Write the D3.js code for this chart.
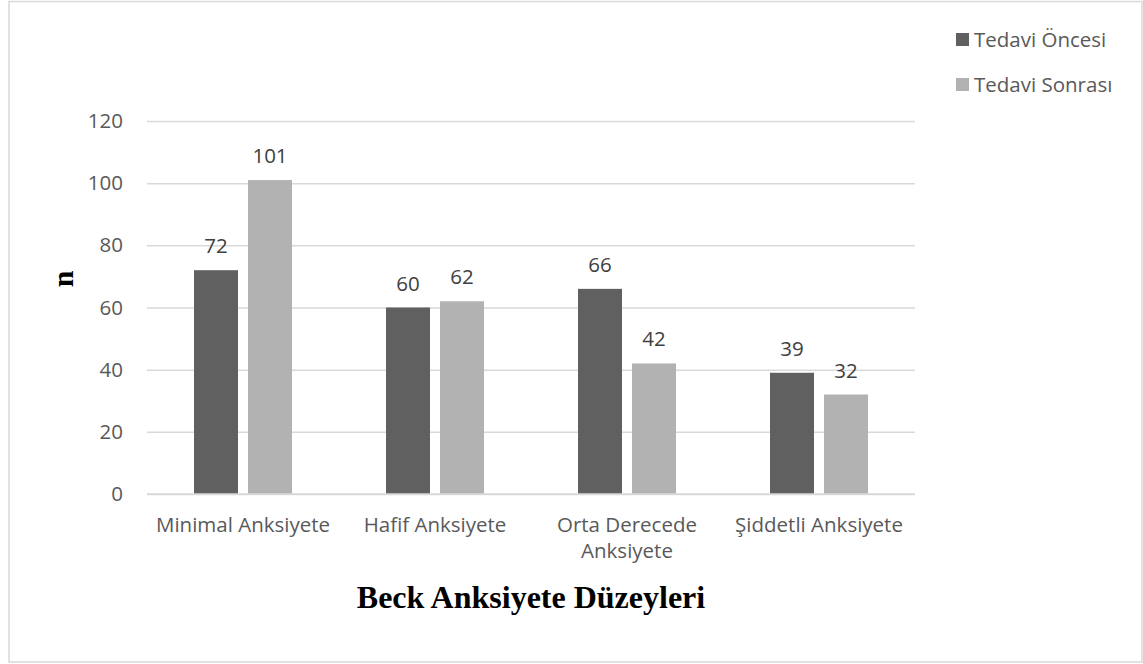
<!DOCTYPE html>
<html>
<head>
<meta charset="utf-8">
<script src="https://cdn.jsdelivr.net/npm/d3@7"></script>
<style>
  html, body { margin: 0; padding: 0; background: #fff; }
  svg { display: block; }
</style>
</head>
<body>
<svg id="chart" width="1143" height="664"></svg>
<script>
const categories = [["Minimal Anksiyete"], ["Hafif Anksiyete"], ["Orta Derecede", "Anksiyete"], ["Şiddetli Anksiyete"]];
const seriesNames = ["Tedavi Öncesi", "Tedavi Sonrası"];
const oncesi = [72, 60, 66, 39];
const sonrasi = [101, 62, 42, 32];
const yTicks = [0, 20, 40, 60, 80, 100, 120];
const colors = ["#606060", "#b2b2b2"];

(function () {
const svg = d3.select("#chart");
const textColor = "#595959";
const labelFont = "'Open Sans', 'Liberation Sans', sans-serif";
const fs = "20.5px";

svg.append("rect").attr("x", 9).attr("y", 1.5).attr("width", 1133).attr("height", 660.5)
  .attr("fill", "none").attr("stroke", "#d9d9d9").attr("stroke-width", 1.5);

const pLeft = 147, pRight = 915, pTop = 121, pBottom = 494;
const x0 = d3.scaleBand().domain(d3.range(categories.length)).range([pLeft, pRight]).padding(0);
const x1 = d3.scaleBand().domain([0, 1]).range([47, 145]).paddingInner(10 / 54).paddingOuter(0);
const y = d3.scaleLinear().domain([0, 120]).range([pBottom, pTop]);

const yAxis = d3.axisLeft(y).tickValues(yTicks).tickSize(-(pRight - pLeft)).tickPadding(24);
const gy = svg.append("g").attr("transform", `translate(${pLeft},0)`).call(yAxis);
gy.select(".domain").remove();
gy.selectAll(".tick line").attr("stroke", "#d9d9d9").attr("stroke-width", 1.5);
gy.selectAll(".tick text").attr("fill", textColor).style("font-family", labelFont).style("font-size", fs);

const data = categories.map((c, i) => ({ i, vals: [oncesi[i], sonrasi[i]] }));
const groups = svg.append("g").selectAll("g").data(data).join("g")
  .attr("transform", d => `translate(${x0(d.i)},0)`);
groups.selectAll("rect").data(d => d.vals).join("rect")
  .attr("x", (v, j) => x1(j)).attr("width", x1.bandwidth())
  .attr("y", v => y(v)).attr("height", v => pBottom - y(v))
  .attr("fill", (v, j) => colors[j]);
groups.selectAll("text.val").data(d => d.vals).join("text").attr("class", "val")
  .attr("x", (v, j) => x1(j) + x1.bandwidth() / 2).attr("y", v => y(v) - 17)
  .attr("text-anchor", "middle").attr("fill", "#404040")
  .style("font-family", labelFont).style("font-size", fs).text(v => v);

svg.append("line").attr("x1", pLeft).attr("x2", pRight).attr("y1", pBottom).attr("y2", pBottom)
  .attr("stroke", "#d9d9d9").attr("stroke-width", 1.5);

const xl = svg.append("g").selectAll("text").data(categories).join("text")
  .attr("x", (c, i) => x0(i) + x0.bandwidth() / 2).attr("y", 532)
  .attr("text-anchor", "middle").attr("fill", textColor)
  .style("font-family", labelFont).style("font-size", fs);
xl.selectAll("tspan").data(d => d).join("tspan")
  .attr("x", function () { return d3.select(this.parentNode).attr("x"); })
  .attr("dy", (t, k) => k === 0 ? 0 : 26).text(t => t);

svg.append("text").attr("x", 531).attr("y", 608).attr("text-anchor", "middle")
  .style("font-family", "'Liberation Serif', 'Times New Roman', serif").style("font-weight", "bold")
  .style("font-size", "32px").attr("fill", "#000").text("Beck Anksiyete Düzeyleri");
svg.append("text").attr("transform", "translate(73,279) rotate(-90)").attr("text-anchor", "middle")
  .style("font-family", "'Liberation Serif', 'Times New Roman', serif").style("font-weight", "bold")
  .style("font-size", "30px").attr("fill", "#000").text("n");

const lg = svg.append("g").selectAll("g").data(seriesNames).join("g")
  .attr("transform", (d, i) => `translate(956,${46.5 + i * 45})`);
lg.append("rect").attr("x", 0).attr("y", -13.5).attr("width", 13).attr("height", 13).attr("fill", (d, i) => colors[i]);
lg.append("text").attr("x", 18).attr("y", 0).attr("fill", textColor)
  .style("font-family", labelFont).style("font-size", fs).text(d => d);
})();
</script>
</body>
</html>
